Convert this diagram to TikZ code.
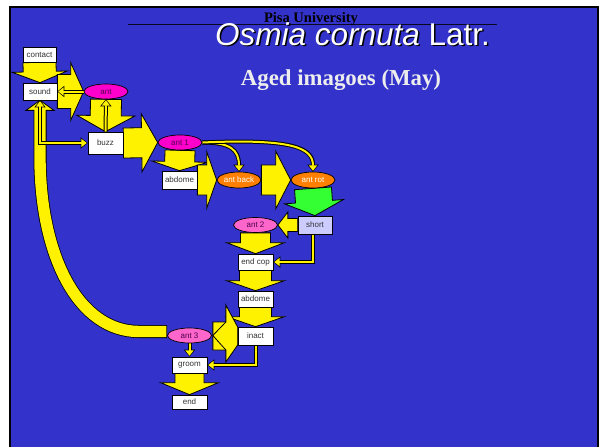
\documentclass[tikz,border=0pt]{standalone}
\usepackage{fontspec}
\setmainfont{Liberation Serif}
\setsansfont{Liberation Sans}
\usepackage{tikz}
\usetikzlibrary{arrows.meta,calc,shapes.geometric}
\definecolor{slideblue}{HTML}{3333CC}
\definecolor{antpink}{HTML}{FF00CC}
\definecolor{antrose}{HTML}{FF66CC}
\definecolor{antorange}{HTML}{FF8000}
\definecolor{arrowgreen}{HTML}{33FF33}
\definecolor{shortblue}{HTML}{CCCCFF}
\definecolor{inkpurple}{HTML}{4D004D}

\pgfdeclarelayer{slide}
\pgfdeclarelayer{arrows}
\pgfdeclarelayer{links}
\pgfsetlayers{slide,arrows,links,main}

% block arrow: [opts] tail, tip, half shaft, half head, head length
\newcommand{\fatarrow}[6][]{%
  \coordinate (fa-base) at ($(#3)!#6!(#2)$);
  \filldraw[fat,#1] ($(#2)!#4!90:(#3)$) -- ($(fa-base)!#4!90:(#3)$)
    -- ($(fa-base)!#5!90:(#3)$) -- (#3) -- ($(fa-base)!#5!-90:(#3)$)
    -- ($(fa-base)!#4!-90:(#3)$) -- ($(#2)!#4!-90:(#3)$) -- cycle;
}

\begin{document}
\begin{tikzpicture}[
x=1pt, y=-1pt,
box/.style={rectangle, draw=black, line width=0.7pt, fill=white, minimum width=35pt, minimum height=17pt, inner sep=0pt, font=\sffamily\fontsize{8}{9}\selectfont, text=black!80},
antell/.style={ellipse, draw=black, line width=0.7pt, fill=antpink, minimum width=44pt, minimum height=15pt, inner sep=0pt, font=\sffamily\fontsize{8}{9}\selectfont, text=inkpurple},
fat/.style={fill=yellow, draw=black, line width=0.8pt, line join=miter},
band/.style={draw=black, line width=13pt, postaction={draw=yellow, line width=11.4pt, shorten <=0.8pt, shorten >=-1.5pt}},
link/.style={draw=black, line width=4pt, -{Triangle[length=7pt,width=11pt]},
  postaction={draw=yellow, line width=2pt, -{Triangle[length=5.4pt,width=8pt]}, shorten >=0.9pt}},
linkboth/.style={draw=black, line width=4pt, {Triangle[length=7pt,width=11pt]}-{Triangle[length=7pt,width=11pt]},
  postaction={draw=yellow, line width=2pt, {Triangle[length=5.4pt,width=8pt]}-{Triangle[length=5.4pt,width=8pt]}, shorten >=0.9pt, shorten <=0.9pt}}
]
    \useasboundingbox (0,0) rectangle (600,447);
    \begin{pgfonlayer}{slide}
    \fill[white] (0,0) rectangle (600,447);
    \filldraw[fill=slideblue, draw=black, line width=2pt] (10,7) rectangle (598,455);
    \end{pgfonlayer}

    % Heading
    \draw[line width=1pt, black!85!slideblue] (128,24.5) -- (497,24.5);
    \node[anchor=base, font=\bfseries\fontsize{14.5}{14.5}\selectfont] (uni) at (311,23) {Pisa University};
    \node[anchor=base, text=black, font=\sffamily\fontsize{31.5}{31.5}\selectfont] at (354,46.5) {\textit{Osmia cornuta} Latr.};
    \node[anchor=base, text=white, font=\sffamily\fontsize{31.5}{31.5}\selectfont] (title) at (352.5,45) {\textit{Osmia cornuta} Latr.};
    \node[anchor=base, text=white!93!black, font=\bfseries\fontsize{22.8}{22.8}\selectfont] (subtitle) at (341,85) {Aged imagoes (May)};

    % Boxes
    \node[box, minimum width=33pt, minimum height=15pt] (contact) at (39.5,54.5) {contact};
    \node[box, minimum width=34pt] (sound) at (40,91.5) {sound};
    \node[box, minimum height=22pt] (buzz) at (105.5,143) {buzz};
    \node[box, minimum height=18pt] (abdome) at (179.5,180) {abdome};
    \node[box, fill=shortblue, minimum width=34pt, minimum height=18pt] (short) at (315,225) {short};
    \node[box, minimum height=16pt] (endcop) at (255.5,262) {end cop};
    \node[box, minimum height=16pt] (abdome2) at (255.5,299) {abdome};
    \node[box, minimum height=18pt] (inact) at (255.5,336) {inact};
    \node[box, minimum height=16pt] (groom) at (189.5,365) {groom};
    \node[box, minimum height=14pt] (endbox) at (189.5,402) {end};

    % Antennae
    \node[antell] (ant) at (106,91.5) {ant};
    \node[antell] (ant1) at (180,142.5) {ant 1};
    \node[antell, fill=antorange, text=white, minimum height=16pt] (antback) at (239,180) {ant back};
    \node[antell, fill=antorange, text=white, minimum height=16pt] (antrot) at (313,180) {ant rot};
    \node[antell, fill=antrose] (ant2) at (255.5,225) {ant 2};
    \node[antell, fill=antrose] (ant3) at (189.5,335.5) {ant 3};

    \begin{pgfonlayer}{arrows}
    % back to sound
    \filldraw[fat] ($(sound.south)+(-14,10)$) -- (sound.south) -- ($(sound.south)+(14,10)$) -- cycle;
    \draw[band] ($(ant3.west)+(0,-4)$) -- ++(-28,0) .. controls +(-60,0) and (41,258) .. ($(sound.south)+(0,60)$) -- ($(sound.south)+(0,10)$);

    \fatarrow{contact.south}{sound.north}{16.5pt}{27.5pt}{11pt}
    \fatarrow{sound.east}{ant.west}{17pt}{29pt}{13pt}
    \fatarrow{ant.south}{buzz.north}{15.5pt}{29pt}{16pt}
    \fatarrow{buzz.east}{ant1.west}{15pt}{29pt}{16pt}
    \fatarrow{ant1.south}{abdome.north}{15pt}{28pt}{9pt}
    \fatarrow{abdome.east}{antback.west}{15pt}{28.5pt}{10pt}
    \fatarrow{antback.east}{antrot.west}{15pt}{29pt}{15pt}
    \fatarrow[fill=arrowgreen]{antrot.south}{short.north}{18.5pt}{29.5pt}{14pt}
    \fatarrow{short.west}{ant2.east}{6.5pt}{13pt}{10pt}
    \fatarrow{ant2.south}{endcop.north}{15pt}{29pt}{11pt}
    \fatarrow{endcop.south}{abdome2.north}{16pt}{29pt}{10pt}
    \fatarrow{abdome2.south}{inact.north}{16pt}{29pt}{10pt}
    \fatarrow{groom.south}{endbox.north}{14.5pt}{29pt}{12pt}

    % squeezed arrow inact -> ant 3
    \filldraw[fat] ($(ant3.east)+(1,-13.5)$) -- ++(13,0) -- ++(0,-17) -- ($(inact.west)+(0,-9)$)
        -- ($(inact.west)+(0,9)$) -- ($(ant3.east)+(14,26.5)$) -- ++(0,-12) -- ($(ant3.east)+(1,14.5)$) -- cycle;
    \draw[line width=0.8pt] ($(ant3.east)+(14,-13.5)$) -- ($(ant3.east)+(1,0)$) -- ($(ant3.east)+(14,14.5)$);
    \end{pgfonlayer}

    \begin{pgfonlayer}{links}
    \draw[link] (ant.west) -- (sound.east);
    \draw[link] (buzz.north) -- (ant.south);
    \draw[linkboth] (sound.south) |- (buzz.west);
    \draw[link] (ant1.east) .. controls +(28,0) and +(0,-22) .. (antback.north);
    \draw[link] (ant1.east) .. controls +(90,-4) and +(0,-24) .. (antrot.north);
    \draw[link] ([xshift=-2pt]short.south) |- (endcop.east);
    \draw[link] (ant3.south) -- (groom.north);
    \draw[link] (inact.south) |- (groom.east);
    \end{pgfonlayer}

\end{tikzpicture}
\end{document}
